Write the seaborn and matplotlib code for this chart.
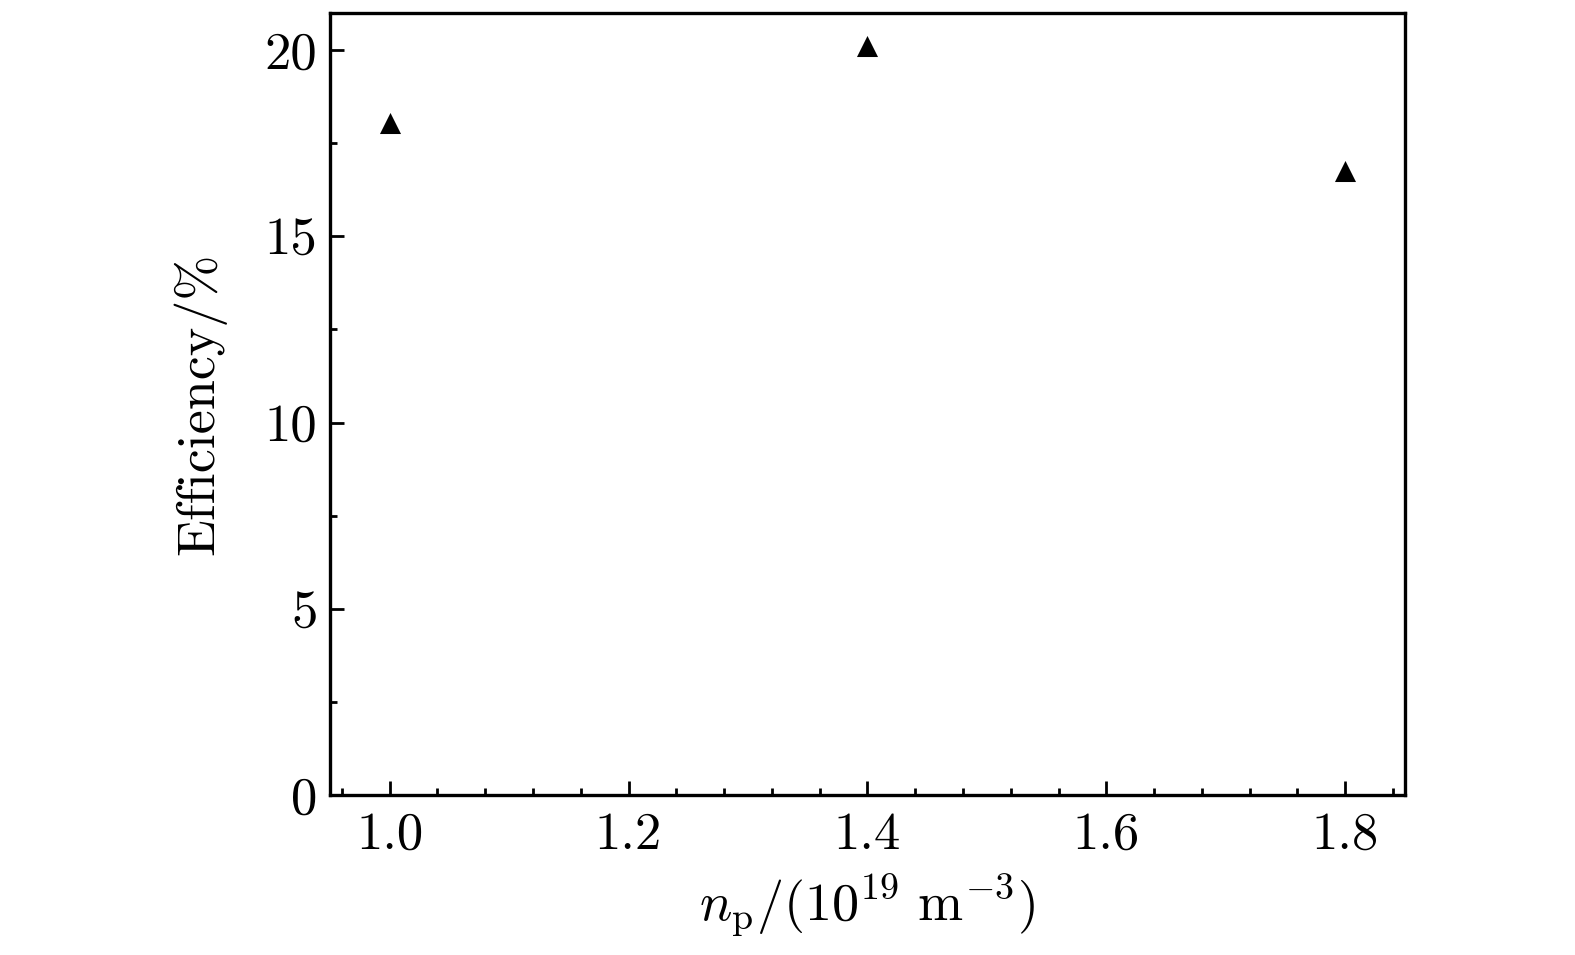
import seaborn as sns
import matplotlib.pyplot as plt
import pandas as pd
from matplotlib.ticker import MultipleLocator

# data
density = [1.0, 1.4, 1.8]
efficiency = [18.05, 20.1, 16.75]

df = pd.DataFrame({"np": density, "eff": efficiency})

sns.set_style("ticks")
plt.rcParams["font.family"] = "serif"
plt.rcParams["font.serif"] = ["cmr10"]
plt.rcParams["mathtext.fontset"] = "cm"
plt.rcParams["axes.formatter.use_mathtext"] = True
plt.rcParams["axes.unicode_minus"] = False
plt.rcParams["text.color"] = "black"
plt.rcParams["axes.labelcolor"] = "black"

fig = plt.figure(figsize=(15.75, 9.55), dpi=100)
ax = fig.add_axes([0.2095, 0.1675, 0.6825, 0.819])

sns.scatterplot(data=df, x="np", y="eff", marker="^", s=230, color="black",
                linewidth=0, ax=ax)

ax.set_xlim(0.95, 1.85)
ax.set_ylim(0, 21)
ax.set_xticks([1.0, 1.2, 1.4, 1.6, 1.8])
ax.set_yticks([0, 5, 10, 15, 20])
ax.xaxis.set_minor_locator(MultipleLocator(0.04))
ax.yaxis.set_minor_locator(MultipleLocator(2.5))
ax.xaxis.set_major_formatter(plt.FuncFormatter(lambda v, p: f"{v:.1f}"))
ax.yaxis.set_major_formatter(plt.FuncFormatter(lambda v, p: f"{v:.0f}"))

ax.tick_params(which="both", direction="in", width=2, labelsize=38, color="black",
               labelcolor="black", top=False, right=False)
ax.tick_params(which="major", length=10)
ax.tick_params(axis="x", which="major", pad=12)
ax.tick_params(axis="y", which="major", pad=9)
ax.tick_params(which="minor", length=5)
for s in ax.spines.values():
    s.set_linewidth(2.4)
    s.set_color("black")

ax.set_xlabel(r"$n_\mathrm{p}/(10^{19}\ \mathrm{m}^{-3})$", fontsize=39, labelpad=10,
              color="black")
ax.set_ylabel("Efficiency/%", fontsize=39, labelpad=28, color="black")

fig.savefig("out.png", dpi=100)
